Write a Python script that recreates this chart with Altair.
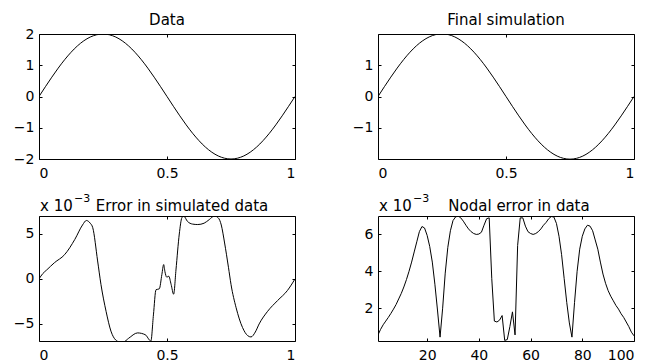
import altair as alt
import pandas as pd

FONT = "DejaVu Sans"

# ---- data ----
sine_x = [0, 0.025, 0.05, 0.075, 0.1, 0.125, 0.15, 0.175, 0.2, 0.225, 0.25,
          0.275, 0.3, 0.325, 0.35, 0.375, 0.4, 0.425, 0.45, 0.475, 0.5,
          0.525, 0.55, 0.575, 0.6, 0.625, 0.65, 0.675, 0.7, 0.725, 0.75,
          0.775, 0.8, 0.825, 0.85, 0.875, 0.9, 0.925, 0.95, 0.975, 1.0]
data_y = [0, 0.313, 0.618, 0.908, 1.176, 1.414, 1.618, 1.782, 1.902, 1.975, 2.0,
          1.975, 1.902, 1.782, 1.618, 1.414, 1.176, 0.908, 0.618, 0.313, 0,
          -0.313, -0.618, -0.908, -1.176, -1.414, -1.618, -1.782, -1.902, -1.975, -2.0,
          -1.975, -1.902, -1.782, -1.618, -1.414, -1.176, -0.908, -0.618, -0.313, 0]
sim_y = [0, 0.313, 0.618, 0.908, 1.176, 1.414, 1.618, 1.782, 1.902, 1.975, 2.0,
         1.975, 1.902, 1.782, 1.618, 1.414, 1.176, 0.908, 0.618, 0.313, 0,
         -0.313, -0.618, -0.908, -1.176, -1.414, -1.618, -1.782, -1.902, -1.975, -2.0,
         -1.975, -1.902, -1.782, -1.618, -1.414, -1.176, -0.908, -0.618, -0.313, 0]

err_x = [0.0, 0.015, 0.03, 0.06, 0.10, 0.14, 0.17, 0.185, 0.20, 0.21, 0.229,
         0.242, 0.262, 0.281, 0.30, 0.315, 0.33, 0.35, 0.385, 0.415, 0.437,
         0.447, 0.457, 0.47, 0.48, 0.487, 0.492, 0.499, 0.507, 0.516, 0.526,
         0.535, 0.548, 0.558, 0.565, 0.58, 0.60, 0.62, 0.645, 0.665, 0.685,
         0.70, 0.712, 0.725, 0.74, 0.75, 0.77, 0.795, 0.815, 0.828, 0.845,
         0.86, 0.893, 0.932, 0.97, 1.0]
err_y = [0.0, 0.6, 1.0, 1.8, 2.7, 4.4, 6.0, 6.5, 6.2, 5.7, 2.0,
         -0.6, -3.6, -5.8, -6.8, -7.0, -7.0, -6.6, -6.0, -6.2, -6.9,
         -4.0, -1.2, -1.1, 0.5, 1.6, 0.8, 0.2, 0.3, -0.6, -1.7,
         1.0, 5.0, 6.8, 7.0, 6.4, 6.1, 6.05, 6.2, 6.6, 7.0,
         6.8, 6.0, 4.0, 1.3, -0.6, -3.2, -5.4, -6.3, -6.45, -5.9,
         -5.0, -3.6, -2.4, -1.3, 0.0]

node_n = list(range(1, 101))
node_err = [0.55, 0.85, 1.1, 1.3, 1.5, 1.72, 1.95, 2.2, 2.5, 2.8,
            3.15, 3.55, 4.0, 4.5, 5.05, 5.6, 6.15, 6.43, 6.35, 5.95,
            5.35, 4.5, 3.3, 1.9, 0.43, 2.0, 3.9, 5.3, 6.2, 6.75,
            6.95, 7.0, 6.9, 6.72, 6.5, 6.3, 6.15, 6.05, 6.0, 6.02,
            6.12, 6.5, 6.85, 6.9, 3.6, 1.3, 1.25, 1.35, 1.6, 0.25,
            0.3, 1.0, 1.8, 0.55, 5.4, 6.9, 6.9, 6.45, 6.15, 6.05,
            6.0, 6.05, 6.15, 6.3, 6.5, 6.65, 6.85, 6.97, 6.95, 6.6,
            5.9, 4.9, 3.6, 2.3, 1.2, 0.43, 2.3, 4.0, 5.2, 5.9,
            6.3, 6.5, 6.45, 6.2, 5.7, 5.2, 4.5, 3.85, 3.35, 2.95,
            2.65, 2.4, 2.15, 1.95, 1.7, 1.5, 1.25, 1.0, 0.7, 0.5]

titles = ["Data", "Final simulation", "Error in simulated data", "Nodal error in data"]
sci_base = ["x 10"]
sci_exp = ["\u22123"]

W, H = 256, 125


def panel(df, xdom, ydom, xvals, yvals, xfmt, title, dx, toff, interp, sci=False):
    common = dict(domain=False, grid=False, ticks=True, tickSize=3, offset=-3,
                  tickColor="black", tickWidth=1, labelColor="black",
                  labelFont=FONT, labelFontSize=14)
    xs = alt.Scale(domain=xdom, nice=False, zero=False)
    ys = alt.Scale(domain=ydom, nice=False, zero=False)
    line = alt.Chart(df).mark_line(color="black", strokeWidth=1, clip=True,
                                   interpolate=interp).encode(
        x=alt.X("x:Q", scale=xs, title=None,
                axis=alt.Axis(orient="bottom", values=xvals, format=xfmt,
                              labelPadding=7, **common)),
        y=alt.Y("y:Q", scale=ys, title=None,
                axis=alt.Axis(orient="left", values=yvals, format="~g",
                              labelPadding=5, **common)),
    )
    ghost = alt.Chart(df).mark_line(opacity=0, clip=True).encode(
        x=alt.X("x:Q", scale=xs, title=None,
                axis=alt.Axis(orient="top", values=xvals, labels=False, **common)),
        y=alt.Y("y:Q", scale=ys, title=None,
                axis=alt.Axis(orient="right", values=yvals, labels=False, **common)),
    )
    ttl = alt.Chart(pd.DataFrame({"t": [title]})).mark_text(
        align="center", baseline="alphabetic", font=FONT, fontSize=15,
        color="black").encode(x=alt.value(W / 2 + dx), y=alt.value(-toff), text="t:N")
    layers = [line, ghost, ttl]
    if sci:
        t1 = alt.Chart(pd.DataFrame({"t": sci_base})).mark_text(
            align="left", baseline="alphabetic", font=FONT, fontSize=15,
            color="black").encode(x=alt.value(1), y=alt.value(-5), text="t:N")
        t2 = alt.Chart(pd.DataFrame({"t": sci_exp})).mark_text(
            align="left", baseline="alphabetic", font=FONT, fontSize=11,
            color="black").encode(x=alt.value(35), y=alt.value(-14), text="t:N")
        layers += [t1, t2]
    return alt.layer(*layers).resolve_scale(x="independent", y="independent").properties(
        width=W, height=H)


df_data = pd.DataFrame({"x": sine_x, "y": data_y})
df_sim = pd.DataFrame({"x": sine_x, "y": sim_y})
df_err = pd.DataFrame({"x": err_x, "y": err_y})
df_node = pd.DataFrame({"x": node_n, "y": node_err})

p1 = panel(df_data, [0, 1], [-2, 2], [0, 0.5, 1], [-2, -1, 0, 1, 2], "~g", titles[0], 0, 9, "monotone")
p2 = panel(df_sim, [0, 1], [-1.995, 1.995], [0, 0.5, 1], [-1, 0, 1], "~g", titles[1], 0, 9, "monotone")
p3 = panel(df_err, [0, 1], [-6.9, 7.0], [0, 0.5, 1], [-5, 0, 5], "~g", titles[2], 15, 5, "monotone", sci=True)
p4 = panel(df_node, [1, 100], [0.22, 7.0], [20, 40, 60, 80, 100], [2, 4, 6], "d", titles[3], 13, 5, "linear", sci=True)

chart = alt.concat(p1, p2, p3, p4, columns=2, spacing={"row": 57, "column": 83},
                   bounds="flush").configure_view(
    stroke="black", strokeWidth=1).properties(
    padding={"left": 4, "top": 4, "right": 0, "bottom": 0})

chart.save("out.html", embed_options={"renderer": "svg", "actions": False})
